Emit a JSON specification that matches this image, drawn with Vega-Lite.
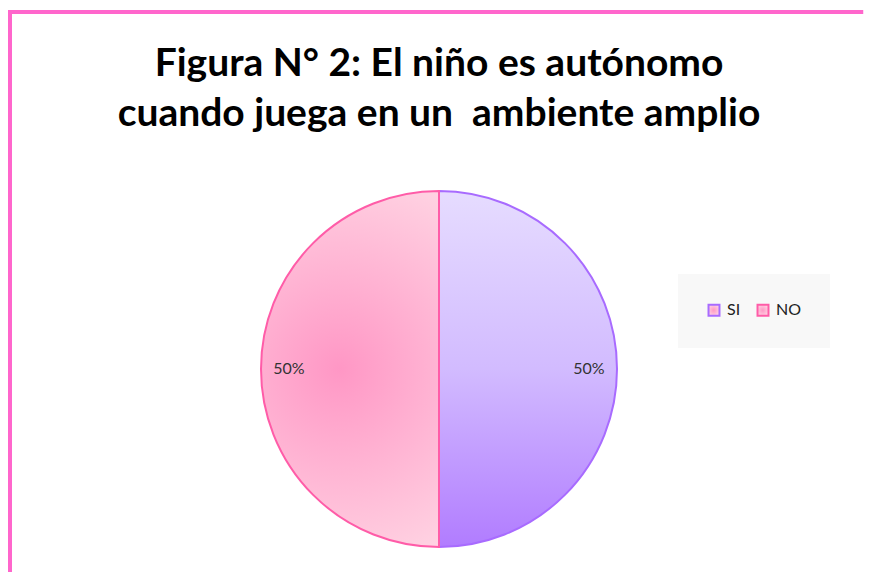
{
  "$schema": "https://vega.github.io/schema/vega-lite/v6.json",
  "autosize": "none",
  "width": 858,
  "height": 714,
  "padding": {"left": 10, "top": 12, "right": 0, "bottom": 0},
  "background": "#ffffff",
  "config": {
    "view": {"stroke": null}
  },
  "title": {
    "text": ["Figura N° 2: El niño es autónomo", "cuando juega en un \u00a0ambiente amplio"],
    "anchor": "middle",
    "frame": "group",
    "offset": -124,
    "font": "Lato",
    "fontSize": 39,
    "fontWeight": "bold",
    "lineHeight": 50,
    "color": "#000000"
  },
  "data": {
    "values": [
      {"cat": "SI", "value": 50, "label": "50%"},
      {"cat": "NO", "value": 50, "label": "50%"}
    ]
  },
  "layer": [
    {
      "data": {"values": [{"frame": "border"}]},
      "mark": {
        "type": "rect",
        "fill": null,
        "strokeWidth": 4,
        "stroke": {"gradient": "linear", "x1": 0, "y1": 0, "x2": 1, "y2": 0,
          "stops": [{"offset": 0, "color": "#FF66CC"}, {"offset": 0.994, "color": "#FF66CC"}, {"offset": 0.995, "color": "rgba(255,102,204,0)"}, {"offset": 1, "color": "rgba(255,102,204,0)"}]}
      },
      "encoding": {}
    },
    {
      "mark": {"type": "arc", "outerRadius": 178, "strokeWidth": 2},
      "encoding": {
        "theta": {"field": "value", "type": "quantitative", "stack": true},
        "order": {"field": "cat", "sort": "descending"},
        "stroke": {
          "field": "cat", "type": "nominal",
          "scale": {"domain": ["SI", "NO"], "range": ["#A86BFF", "#FF5CA8"]},
          "legend": {
            "title": null,
            "orient": "none",
            "legendX": 668,
            "legendY": 262,
            "direction": "horizontal",
            "fillColor": "#F8F8F8",
            "padding": 28,
            "symbolType": "square",
            "symbolSize": 120,
            "symbolStrokeWidth": 2,
            "labelFont": "Lato",
            "labelFontSize": 16,
            "labelColor": "#222222",
            "columnPadding": 12,
            "labelOffset": 5,
            "encode": {
              "symbols": {
                "update": {
                  "fill": {"signal": "datum.value === 'SI' ? '#D2BCFF' : '#FFB0CE'"},
                  "fillOpacity": {"value": 1}
                }
              }
            }
          }
        },
        "fill": {
          "condition": {
            "test": "datum.cat === 'SI'",
            "value": {"gradient": "linear", "x1": 0, "y1": 0, "x2": 0, "y2": 1,
              "stops": [{"offset": 0, "color": "#E6DCFF"}, {"offset": 0.5, "color": "#D2BBFF"}, {"offset": 1, "color": "#B17CFF"}]}
          },
          "value": {"gradient": "radial", "x1": 0.47, "y1": 0.5, "r1": 0, "x2": 0.47, "y2": 0.5, "r2": 0.62,
            "stops": [{"offset": 0, "color": "#FF97C5"}, {"offset": 1, "color": "#FFD8E5"}]}
        }
      }
    },
    {
      "mark": {"type": "text", "radius": 150, "font": "Lato", "fontSize": 16, "color": "#333333"},
      "encoding": {
        "theta": {"field": "value", "type": "quantitative", "stack": true},
        "order": {"field": "cat", "sort": "descending"},
        "text": {"field": "label", "type": "nominal"}
      }
    }
  ]
}
